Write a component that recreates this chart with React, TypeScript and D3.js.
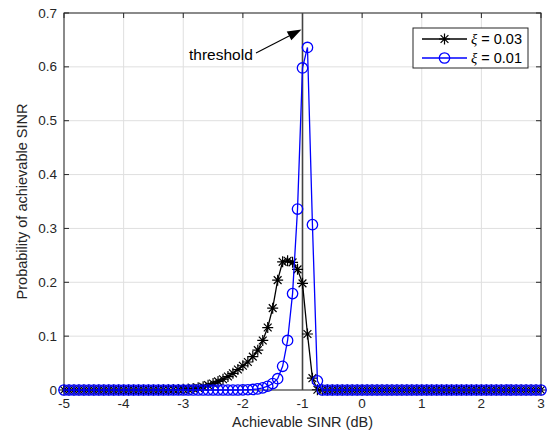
import React from 'react';
import * as d3 from 'd3';

// sampling grid of the achievable SINR (dB), -5 .. 3 in 1/12 dB steps
const sinrDb = d3.range(97).map(k => -5 + k / 12);

// xi = 0.03
const probXi003 = [
  0, 0, 0, 0, 0, 0, 0, 0, 0, 0,
  0, 0, 0, 0, 0, 0, 0, 0, 0, 0,
  0.0003, 0.0005, 0.0008, 0.001, 0.0015, 0.002, 0.003, 0.004, 0.006, 0.009,
  0.012, 0.016, 0.02, 0.025, 0.031, 0.038, 0.045, 0.052, 0.062, 0.074,
  0.092, 0.116, 0.152, 0.204, 0.238, 0.24, 0.237, 0.224, 0.198, 0.104,
  0.022, 0.0005, 0, 0, 0, 0, 0, 0, 0, 0,
  0, 0, 0, 0, 0, 0, 0, 0, 0, 0,
  0, 0, 0, 0, 0, 0, 0, 0, 0, 0,
  0, 0, 0, 0, 0, 0, 0, 0, 0, 0,
  0, 0, 0, 0, 0, 0, 0
];

// xi = 0.01
const probXi001 = [
  0, 0, 0, 0, 0, 0, 0, 0, 0, 0,
  0, 0, 0, 0, 0, 0, 0, 0, 0, 0,
  0, 0, 0, 0, 0, 0, 0, 0, 0, 0,
  0, 0, 0, 0, 0, 0, 0.0002, 0.0005, 0.001, 0.002,
  0.004, 0.007, 0.012, 0.021, 0.044, 0.092, 0.179, 0.336, 0.598, 0.636,
  0.307, 0.017, 0, 0, 0, 0, 0, 0, 0, 0,
  0, 0, 0, 0, 0, 0, 0, 0, 0, 0,
  0, 0, 0, 0, 0, 0, 0, 0, 0, 0,
  0, 0, 0, 0, 0, 0, 0, 0, 0, 0,
  0, 0, 0, 0, 0, 0, 0
];

const xTicks = [-5, -4, -3, -2, -1, 0, 1, 2, 3];
const yTicks = [0, 0.1, 0.2, 0.3, 0.4, 0.5, 0.6, 0.7];
const seriesNames = ['0.03', '0.01'];
const thresholdDb = -1;

const W = 550;
const H = 436;
const left = 64, right = 541, top = 13, bottom = 390;
const axisColor = '#262626';
const font = '"Liberation Sans", Arial, sans-serif';

const asterisk = 'M-5.5,0H5.5M0,-5.5V5.5M-3.9,-3.9L3.9,3.9M-3.9,3.9L3.9,-3.9';

const App = () => {
  const x = d3.scaleLinear().domain([-5, 3]).range([left, right]);
  const y = d3.scaleLinear().domain([0, 0.7]).range([bottom, top]);

  const line = d3.line<number>()
    .x((_, i) => x(sinrDb[i]))
    .y(d => y(d));

  // arrow from the "threshold" label to the line
  const a0 = [256, 53];
  const a1 = [x(thresholdDb) - 1, 29.5];
  const ang = Math.atan2(a1[1] - a0[1], a1[0] - a0[0]);
  const hl = 14, hw = 5;
  const bx = a1[0] - hl * Math.cos(ang), by = a1[1] - hl * Math.sin(ang);
  const head = [
    [a1[0], a1[1]],
    [bx + hw * Math.sin(ang), by - hw * Math.cos(ang)],
    [bx - hw * Math.sin(ang), by + hw * Math.cos(ang)]
  ].map(p => p.join(',')).join(' ');

  return (
    <svg width={W} height={H} style={{ position: 'absolute', left: 0, top: 0, background: '#fff' }} fontFamily={font}>
      <rect x={0} y={0} width={W} height={H} fill="#fff" />

      {/* grid */}
      {xTicks.map(t => (
        <line key={'gx' + t} x1={x(t)} x2={x(t)} y1={top} y2={bottom} stroke="#dfdfdf" strokeWidth={1} />
      ))}
      {yTicks.map(t => (
        <line key={'gy' + t} x1={left} x2={right} y1={y(t)} y2={y(t)} stroke="#dfdfdf" strokeWidth={1} />
      ))}

      {/* axes box and ticks */}
      <rect x={left} y={top} width={right - left} height={bottom - top} fill="none" stroke={axisColor} strokeWidth={1} />
      {xTicks.map(t => (
        <g key={'tx' + t}>
          <line x1={x(t)} x2={x(t)} y1={bottom} y2={bottom - 5} stroke={axisColor} />
          <line x1={x(t)} x2={x(t)} y1={top} y2={top + 5} stroke={axisColor} />
          <text x={x(t)} y={bottom + 18} textAnchor="middle" fontSize={13.5} fill={axisColor}>{t}</text>
        </g>
      ))}
      {yTicks.map(t => (
        <g key={'ty' + t}>
          <line x1={left} x2={left + 5} y1={y(t)} y2={y(t)} stroke={axisColor} />
          <line x1={right} x2={right - 5} y1={y(t)} y2={y(t)} stroke={axisColor} />
          <text x={left - 7} y={y(t) + 4.5} textAnchor="end" fontSize={13.5} fill={axisColor}>{t === 0 ? '0' : t.toFixed(1)}</text>
        </g>
      ))}

      {/* threshold */}
      <line x1={x(thresholdDb)} x2={x(thresholdDb)} y1={y(0)} y2={y(0.7)} stroke="#444" strokeWidth={1.6} />

      {/* xi = 0.03 */}
      <path d={line(probXi003) || ''} fill="none" stroke="#000" strokeWidth={1.3} />
      {probXi003.map((d, i) => (
        <path key={'a' + i} d={asterisk} transform={`translate(${x(sinrDb[i])},${y(d)})`} stroke="#000" strokeWidth={1.2} fill="none" />
      ))}

      {/* xi = 0.01 */}
      <path d={line(probXi001) || ''} fill="none" stroke="#0000ff" strokeWidth={1.3} />
      {probXi001.map((d, i) => (
        <circle key={'c' + i} cx={x(sinrDb[i])} cy={y(d)} r={5.2} stroke="#0000ff" strokeWidth={1.3} fill="none" />
      ))}

      {/* annotation */}
      <line x1={a0[0]} y1={a0[1]} x2={bx} y2={by} stroke="#000" strokeWidth={1.1} />
      <polygon points={head} fill="#000" />
      <text x={189} y={59.5} fontSize={15.5} fill="#000">threshold</text>

      {/* legend */}
      <rect x={413} y={28} width={115} height={40} fill="#fff" stroke={axisColor} strokeWidth={1} />
      {seriesNames.map((n, i) => {
        const ly = 39 + i * 19;
        const c = i === 0 ? '#000' : '#0000ff';
        return (
          <g key={'l' + n}>
            <line x1={422} x2={467} y1={ly} y2={ly} stroke={c} strokeWidth={1.3} />
            {i === 0
              ? <path d={asterisk} transform={`translate(444.5,${ly})`} stroke={c} strokeWidth={1.2} fill="none" />
              : <circle cx={444.5} cy={ly} r={5.2} stroke={c} strokeWidth={1.3} fill="none" />}
            <text x={471} y={ly + 5} fontSize={14.5} fill="#000">
              <tspan fontFamily='"Liberation Serif", "Times New Roman", serif' fontStyle="italic">ξ</tspan>
              <tspan> = {n}</tspan>
            </text>
          </g>
        );
      })}

      {/* axis labels */}
      <text x={(left + right) / 2} y={427} textAnchor="middle" fontSize={14.5} fill={axisColor}>Achievable SINR (dB)</text>
      <text transform={`translate(27,${(top + bottom) / 2}) rotate(-90)`} textAnchor="middle" fontSize={14.5} fill={axisColor}>Probability of achievable SINR</text>
    </svg>
  );
};

export default App;
